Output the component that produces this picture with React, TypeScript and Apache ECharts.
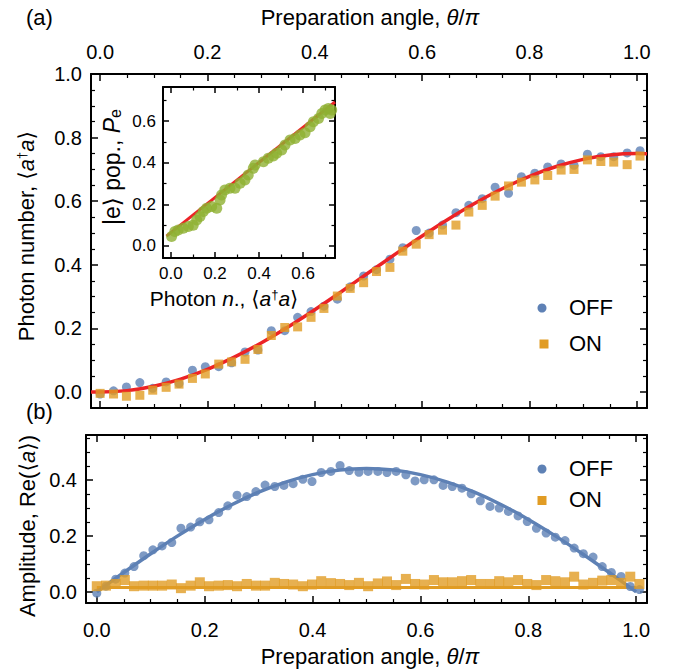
import React, { useEffect, useRef } from 'react';
import * as echarts from 'echarts';

const FONT = '"Liberation Sans", Arial, Helvetica, "DejaVu Sans", sans-serif';
const BLUE = '#5e81b5';
const ORANGE = '#e19c24';
const GREEN = '#8fb032';
const RED = '#ec2326';

// ---------- Panel (a): photon number vs preparation angle ----------
const thetaTop = [0, 0.025, 0.049, 0.074, 0.098, 0.123, 0.147, 0.172, 0.196, 0.221, 0.245, 0.27, 0.294, 0.319, 0.344, 0.368, 0.393, 0.417, 0.442, 0.466, 0.491, 0.515, 0.54, 0.564, 0.589, 0.613, 0.638, 0.663, 0.687, 0.712, 0.736, 0.761, 0.785, 0.81, 0.834, 0.859, 0.883, 0.908, 0.933, 0.957, 0.982, 1.006];
const offTop = [-0.006, 0.004, 0.016, 0.03, 0.012, 0.032, 0.027, 0.069, 0.08, 0.08, 0.092, 0.126, 0.132, 0.193, 0.193, 0.235, 0.253, 0.27, 0.292, 0.331, 0.365, 0.385, 0.418, 0.454, 0.508, 0.5, 0.525, 0.564, 0.587, 0.608, 0.644, 0.625, 0.677, 0.688, 0.708, 0.717, 0.713, 0.748, 0.74, 0.74, 0.752, 0.759];
const onTop = [-0.004, -0.006, -0.013, -0.01, 0.006, 0.015, 0.025, 0.043, 0.057, 0.088, 0.095, 0.103, 0.134, 0.178, 0.203, 0.205, 0.235, 0.263, 0.302, 0.326, 0.344, 0.379, 0.392, 0.443, 0.465, 0.495, 0.509, 0.525, 0.566, 0.587, 0.616, 0.648, 0.66, 0.667, 0.681, 0.698, 0.7, 0.73, 0.725, 0.723, 0.715, 0.742];
const fitTopX = [-0.017, 0, 0.05, 0.1, 0.15, 0.2, 0.25, 0.3, 0.35, 0.4, 0.45, 0.5, 0.55, 0.6, 0.65, 0.7, 0.75, 0.8, 0.85, 0.9, 0.95, 1.0, 1.019];
const fitTopY = [0.0005, 0, 0.0046, 0.0184, 0.0409, 0.0716, 0.1098, 0.1546, 0.2048, 0.2591, 0.3163, 0.375, 0.4337, 0.4909, 0.5452, 0.5954, 0.6402, 0.6784, 0.7091, 0.7316, 0.7454, 0.75, 0.7493];

// ---------- Inset: excited population vs photon number ----------
const insetN = [0.003, 0.018, 0.033, 0.056, 0.079, 0.101, 0.117, 0.132, 0.147, 0.162, 0.185, 0.208, 0.223, 0.23, 0.245, 0.268, 0.291, 0.314, 0.336, 0.351, 0.374, 0.382, 0.42, 0.442, 0.465, 0.48, 0.503, 0.518, 0.541, 0.564, 0.586, 0.609, 0.632, 0.647, 0.67, 0.685, 0.7, 0.715, 0.723, 0.73];
const insetP = [0.045, 0.069, 0.077, 0.085, 0.093, 0.1, 0.125, 0.141, 0.165, 0.181, 0.189, 0.181, 0.221, 0.245, 0.269, 0.277, 0.277, 0.301, 0.317, 0.341, 0.373, 0.389, 0.405, 0.421, 0.432, 0.445, 0.461, 0.485, 0.509, 0.517, 0.533, 0.544, 0.573, 0.597, 0.613, 0.637, 0.653, 0.661, 0.637, 0.653];
const insetFitX = [-0.02, 0.745];
const insetFitY = [0.047, 0.692];

// ---------- Panel (b): amplitude vs preparation angle ----------
const thetaBot = [0, 0.017, 0.035, 0.052, 0.069, 0.087, 0.104, 0.121, 0.139, 0.156, 0.174, 0.191, 0.208, 0.226, 0.243, 0.26, 0.278, 0.295, 0.312, 0.33, 0.347, 0.364, 0.382, 0.399, 0.416, 0.434, 0.451, 0.468, 0.486, 0.503, 0.521, 0.538, 0.555, 0.573, 0.59, 0.607, 0.625, 0.642, 0.659, 0.677, 0.694, 0.711, 0.729, 0.746, 0.763, 0.781, 0.798, 0.815, 0.833, 0.85, 0.868, 0.885, 0.902, 0.92, 0.937, 0.954, 0.972, 0.989, 1.006];
const offBot = [-0.005, 0.02, 0.045, 0.067, 0.09, 0.129, 0.15, 0.164, 0.176, 0.227, 0.231, 0.25, 0.257, 0.283, 0.307, 0.345, 0.34, 0.358, 0.381, 0.376, 0.38, 0.386, 0.402, 0.394, 0.426, 0.43, 0.451, 0.433, 0.427, 0.43, 0.43, 0.426, 0.43, 0.418, 0.396, 0.4, 0.4, 0.38, 0.376, 0.37, 0.35, 0.325, 0.305, 0.299, 0.287, 0.271, 0.251, 0.227, 0.21, 0.195, 0.183, 0.156, 0.136, 0.124, 0.09, 0.069, 0.055, 0.019, 0.008];
const onBot = [0.02, 0.022, 0.028, 0.042, 0.02, 0.022, 0.022, 0.022, 0.026, 0.013, 0.022, 0.034, 0.02, 0.022, 0.024, 0.02, 0.028, 0.022, 0.022, 0.032, 0.028, 0.026, 0.02, 0.026, 0.038, 0.031, 0.028, 0.024, 0.032, 0.02, 0.03, 0.037, 0.024, 0.046, 0.028, 0.026, 0.042, 0.034, 0.034, 0.038, 0.042, 0.028, 0.028, 0.038, 0.034, 0.042, 0.028, 0.024, 0.042, 0.038, 0.034, 0.054, 0.026, 0.032, 0.04, 0.042, 0.032, 0.054, 0.028];
const fitBotX = [0, 0.05, 0.1, 0.15, 0.2, 0.25, 0.3, 0.35, 0.4, 0.45, 0.5, 0.55, 0.6, 0.65, 0.7, 0.75, 0.8, 0.85, 0.9, 0.95, 1.0];
const fitBotY = [0, 0.0688, 0.136, 0.1998, 0.2586, 0.3111, 0.356, 0.392, 0.4185, 0.4346, 0.44, 0.4346, 0.4185, 0.392, 0.356, 0.3111, 0.2586, 0.1998, 0.136, 0.0688, 0];
const onFitX = [0, 1.0];
const onFitY = [0.015, 0.015];

const legendNames = ['OFF', 'ON'];

function pairs(xs: number[], ys: number[]) {
  return xs.map((x, i) => [x, ys[i]]);
}

function fmt(v: number) {
  const r = Math.round(v / 0.2) * 0.2;
  return Math.abs(v - r) < 1e-6 ? r.toFixed(1) : '';
}

function mkAxis(
  gridIndex: number,
  position: string,
  min: number,
  max: number,
  showLabel: boolean,
  labelSize: number,
  labelMargin: number,
  majorLen: number,
  minorLen: number,
  minorSplit: number
) {
  return {
    type: 'value',
    gridIndex,
    position,
    min,
    max,
    minInterval: 0.2,
    maxInterval: 0.2,
    axisLine: { show: true, onZero: false, lineStyle: { color: '#000', width: 2 } },
    axisTick: { show: true, inside: true, length: majorLen, lineStyle: { color: '#000', width: 1.5 } },
    minorTick: { show: true, splitNumber: minorSplit, length: minorLen, lineStyle: { color: '#000', width: 1.2 } },
    splitLine: { show: false },
    minorSplitLine: { show: false },
    axisLabel: {
      show: showLabel,
      formatter: fmt,
      color: '#000',
      fontSize: labelSize,
      fontFamily: FONT,
      margin: labelMargin,
    },
  };
}

function richStyles(size: number) {
  return {
    i: { fontStyle: 'italic', fontSize: size, fontFamily: FONT, fill: '#000' },
    s: { fontSize: Math.round(size * 0.6), fontFamily: FONT, fill: '#000', verticalAlign: 'top' },
    sub: { fontSize: Math.round(size * 0.7), fontFamily: FONT, fill: '#000', verticalAlign: 'bottom' },
  };
}

function txt(x: number, y: number, text: string, size: number, align = 'center', rotation = 0) {
  return {
    type: 'text',
    x,
    y,
    rotation,
    style: {
      text,
      fill: '#000',
      fontSize: size,
      fontFamily: FONT,
      align,
      verticalAlign: 'middle',
      rich: richStyles(size),
    },
  };
}

export default function App() {
  const ref = useRef<HTMLDivElement>(null);
  useEffect(() => {
    if (!ref.current) return;
    const chart = echarts.init(ref.current, undefined, { renderer: 'svg' });
    const TICK = 20;
    const option: any = {
      animation: false,
      backgroundColor: '#fff',
      grid: [
        { left: 91, top: 74, width: 556, height: 334, outerBoundsMode: 'none', containLabel: false },
        { left: 163, top: 87, width: 172, height: 171, show: true, backgroundColor: '#fff', borderWidth: 0, outerBoundsMode: 'none', containLabel: false },
        { left: 86, top: 435, width: 561, height: 168, outerBoundsMode: 'none', containLabel: false },
      ],
      xAxis: [
        mkAxis(0, 'bottom', -0.017, 1.019, false, TICK, 12, 7, 4, 4),
        mkAxis(0, 'top', -0.017, 1.019, true, TICK, 12, 7, 4, 4),
        mkAxis(1, 'bottom', -0.036, 0.745, true, 17, 7, 6, 3.5, 2),
        mkAxis(1, 'top', -0.036, 0.745, false, 17, 7, 6, 3.5, 2),
        mkAxis(2, 'bottom', -0.02, 1.02, true, TICK, 17, 7, 4, 4),
        mkAxis(2, 'top', -0.02, 1.02, false, TICK, 12, 7, 4, 4),
      ],
      yAxis: [
        mkAxis(0, 'left', -0.05, 1.0, true, TICK, 9, 7, 4, 4),
        mkAxis(0, 'right', -0.05, 1.0, false, TICK, 9, 7, 4, 4),
        mkAxis(1, 'left', -0.058, 0.764, true, 17, 7, 6, 3.5, 2),
        mkAxis(1, 'right', -0.058, 0.764, false, 17, 7, 6, 3.5, 2),
        mkAxis(2, 'left', -0.04, 0.56, true, TICK, 9, 7, 4, 4),
        mkAxis(2, 'right', -0.04, 0.56, false, TICK, 9, 7, 4, 4),
      ],
      series: [
        // panel (a)
        { type: 'scatter', name: legendNames[0], xAxisIndex: 0, yAxisIndex: 0, data: pairs(thetaTop, offTop), symbol: 'circle', symbolSize: 9, itemStyle: { color: BLUE }, z: 2 },
        { type: 'line', xAxisIndex: 0, yAxisIndex: 0, data: pairs(fitTopX, fitTopY), smooth: 0.3, symbol: 'none', showSymbol: false, lineStyle: { color: RED, width: 3.5 }, z: 3 },
        { type: 'scatter', name: legendNames[1], xAxisIndex: 0, yAxisIndex: 0, data: pairs(thetaTop, onTop), symbol: 'rect', symbolSize: 9, itemStyle: { color: ORANGE }, z: 4 },
        // inset
        { type: 'line', xAxisIndex: 2, yAxisIndex: 2, data: pairs(insetFitX, insetFitY), symbol: 'none', showSymbol: false, lineStyle: { color: RED, width: 3 }, z: 5 },
        { type: 'scatter', xAxisIndex: 2, yAxisIndex: 2, data: pairs(insetN, insetP), symbol: 'circle', symbolSize: 11, itemStyle: { color: GREEN }, z: 6 },
        // panel (b)
        { type: 'line', xAxisIndex: 4, yAxisIndex: 4, data: pairs(onFitX, onFitY), symbol: 'none', showSymbol: false, lineStyle: { color: ORANGE, width: 3 }, z: 2 },
        { type: 'scatter', name: legendNames[0], xAxisIndex: 4, yAxisIndex: 4, data: pairs(thetaBot, offBot), symbol: 'circle', symbolSize: 9, itemStyle: { color: BLUE }, z: 3 },
        { type: 'line', xAxisIndex: 4, yAxisIndex: 4, data: pairs(fitBotX, fitBotY), smooth: 0.3, symbol: 'none', showSymbol: false, lineStyle: { color: BLUE, width: 3.5 }, z: 3 },
        { type: 'scatter', name: legendNames[1], xAxisIndex: 4, yAxisIndex: 4, data: pairs(thetaBot, onBot), symbol: 'rect', symbolSize: 10, itemStyle: { color: ORANGE }, z: 4 },
      ],
      graphic: {
        elements: [
          txt(26, 17, '(a)', 22, 'left'),
          txt(370, 17, 'Preparation angle, {i|θ}/{i|π}', 22),
          txt(26, 236, 'Photon number, ⟨{i|a}{s|†}{i|a}⟩', 22, 'center', Math.PI / 2),
          txt(26, 411, '(b)', 22, 'left'),
          txt(27, 526, 'Amplitude, Re(⟨{i|a}⟩)', 22, 'center', Math.PI / 2),
          txt(370, 656, 'Preparation angle, {i|θ}/{i|π}', 22),
          txt(224, 298, 'Photon {i|n}., ⟨{i|a}{s|†}{i|a}⟩', 21),
          txt(112, 167, '|e⟩ pop., {i|P}{sub|e}', 23, 'center', Math.PI / 2),
          // legend (a)
          { type: 'circle', shape: { cx: 542, cy: 308, r: 4.5 }, style: { fill: BLUE } },
          txt(569, 307, legendNames[0], 22, 'left'),
          { type: 'rect', shape: { x: 539.5, y: 339.5, width: 9, height: 9 }, style: { fill: ORANGE } },
          txt(569, 343, legendNames[1], 22, 'left'),
          // legend (b)
          { type: 'circle', shape: { cx: 542, cy: 469, r: 4.5 }, style: { fill: BLUE } },
          txt(569, 468, legendNames[0], 22, 'left'),
          { type: 'rect', shape: { x: 537.5, y: 496, width: 9, height: 9 }, style: { fill: ORANGE } },
          txt(569, 499, legendNames[1], 22, 'left'),
        ],
      },
    };
    chart.setOption(option);
    return () => chart.dispose();
  }, []);
  return (
    <div
      ref={ref}
      style={{ position: 'fixed', left: 0, top: 0, width: 675, height: 671, background: '#fff' }}
    />
  );
}
